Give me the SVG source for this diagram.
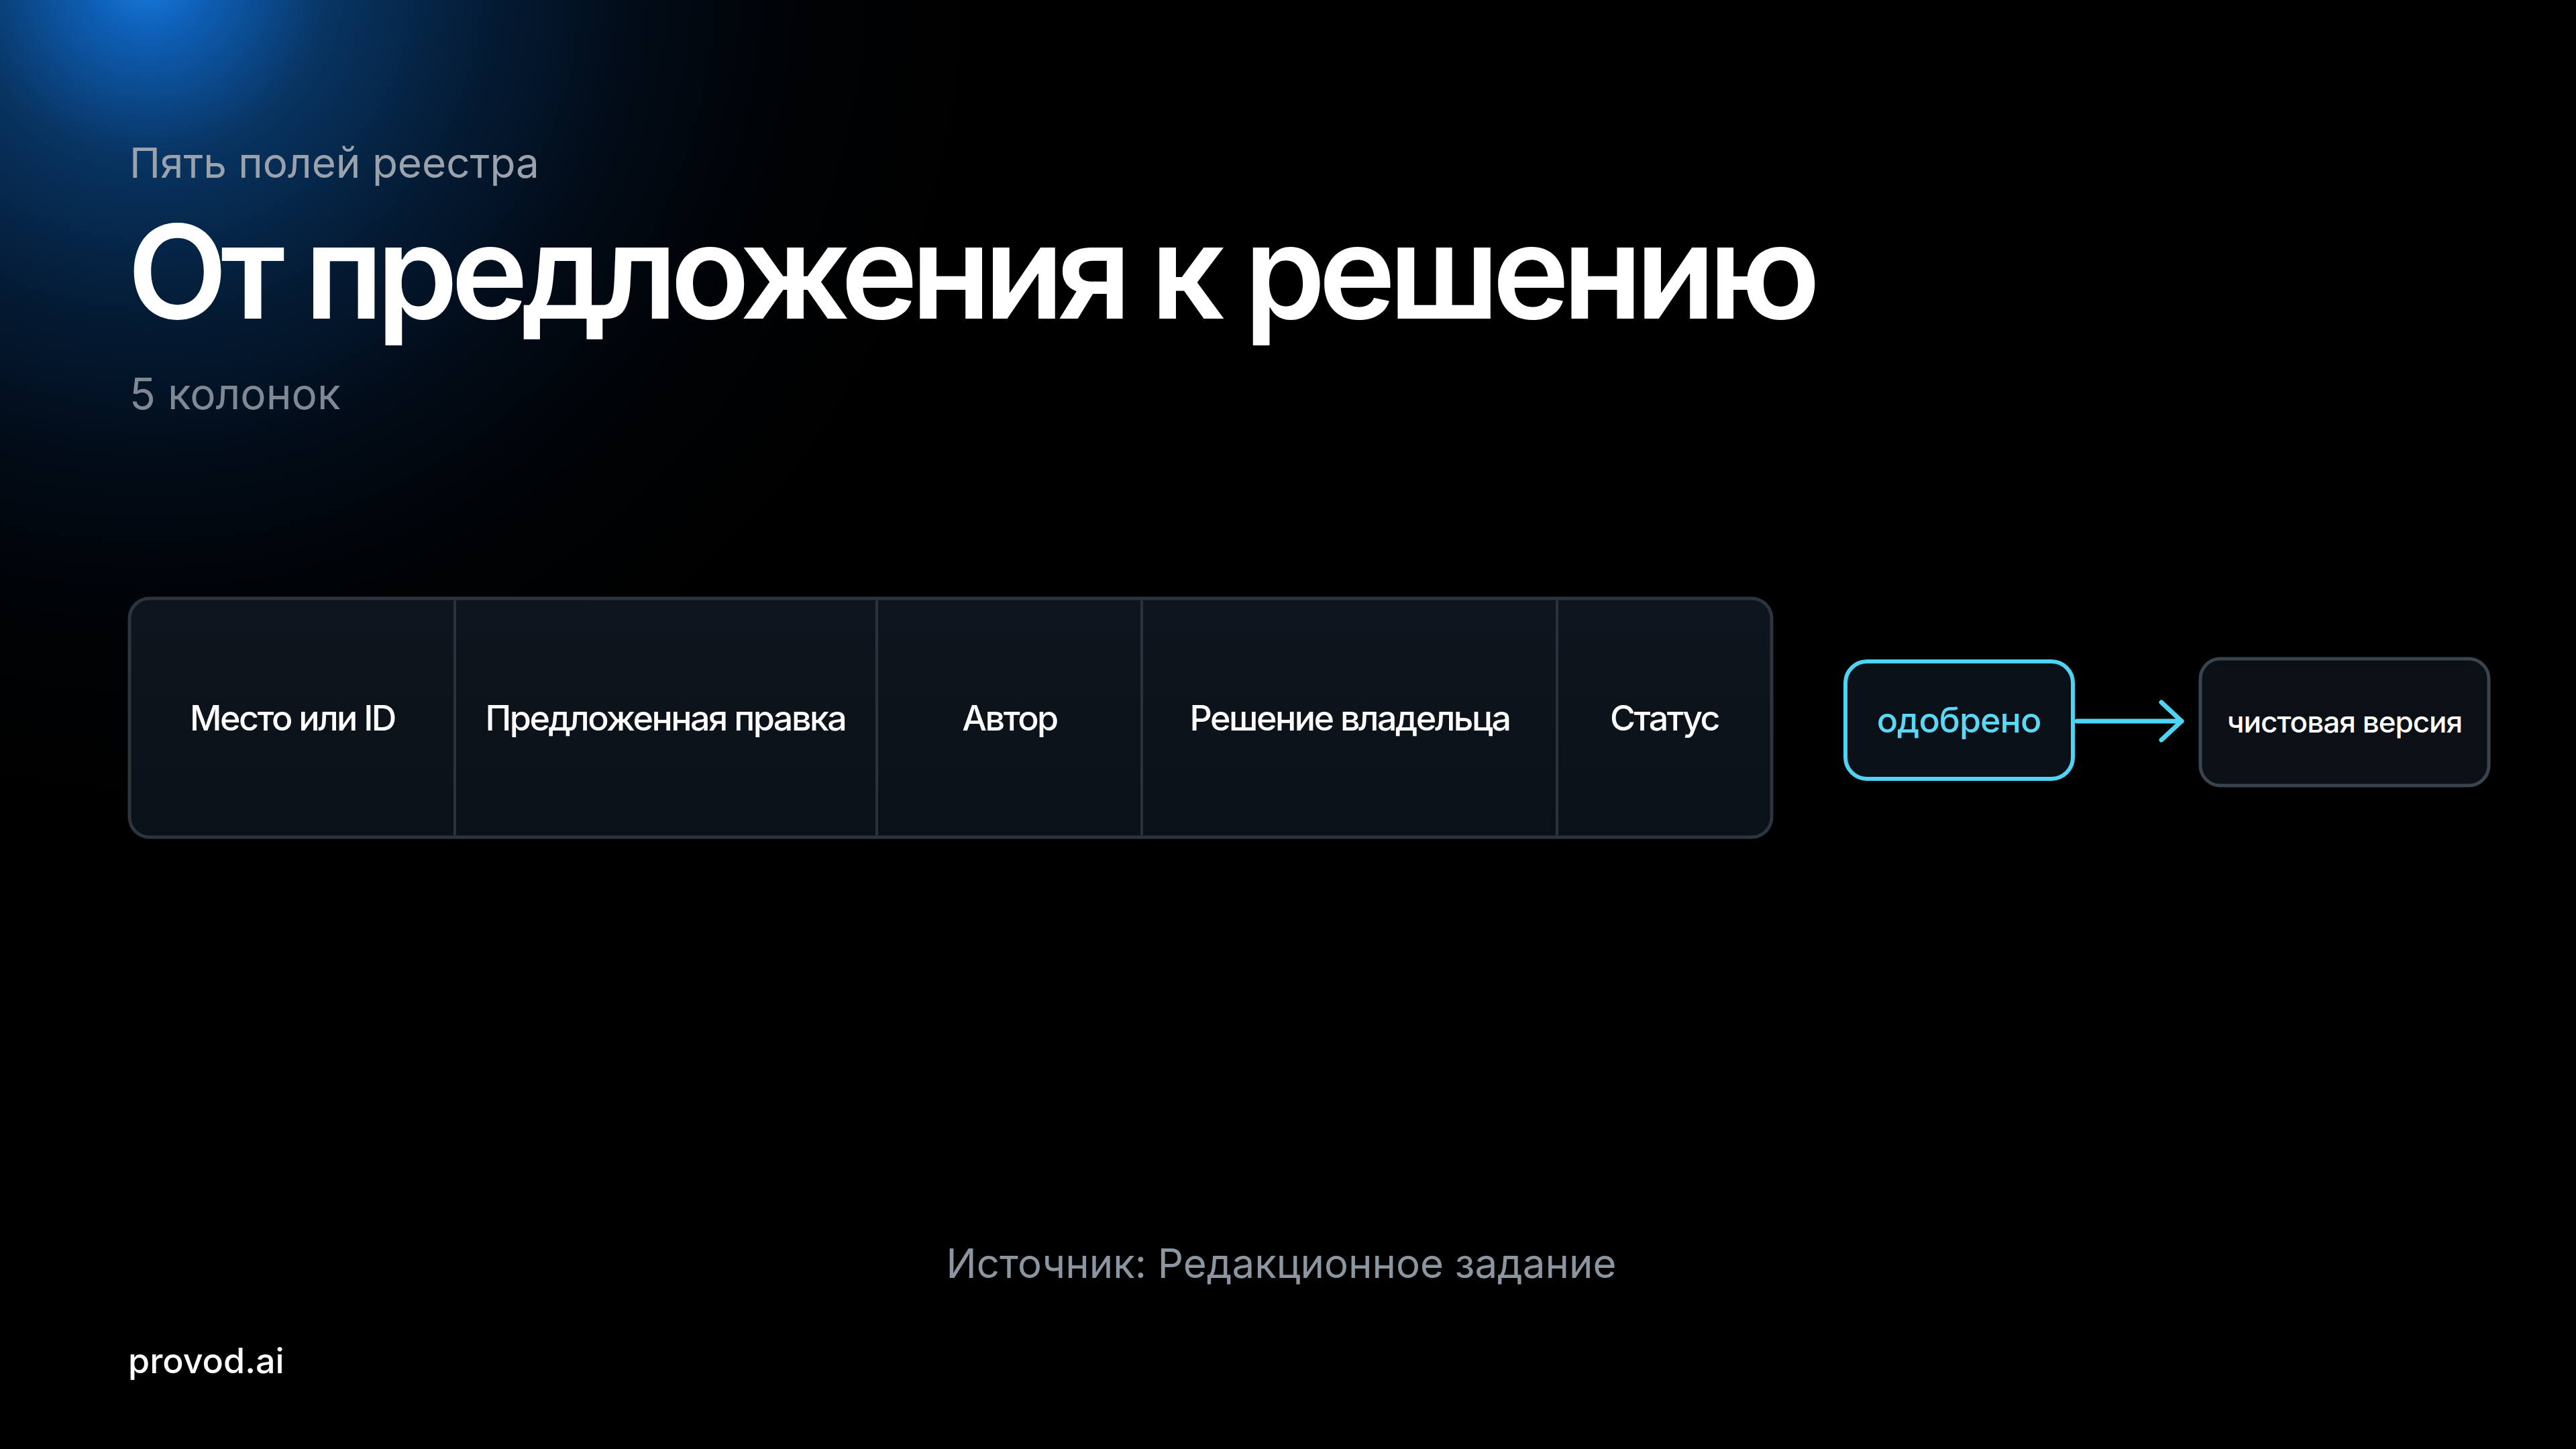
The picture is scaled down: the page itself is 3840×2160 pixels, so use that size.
<svg xmlns="http://www.w3.org/2000/svg" width="3840" height="2160" viewBox="0 0 3840 2160">
  <defs>
    <radialGradient id="glow" cx="220" cy="-40" r="1250" gradientUnits="userSpaceOnUse">
      <stop offset="0" stop-color="#1a80e2"/>
      <stop offset="0.07" stop-color="#0e60b8"/>
      <stop offset="0.22" stop-color="#083462"/>
      <stop offset="0.4" stop-color="#041c36"/>
      <stop offset="0.6" stop-color="#020a15"/>
      <stop offset="0.8" stop-color="#000204"/>
      <stop offset="1" stop-color="#000000"/>
    </radialGradient>
    <linearGradient id="cellFill" x1="0" y1="0" x2="0" y2="1">
      <stop offset="0" stop-color="#0e151e"/>
      <stop offset="1" stop-color="#0b1118"/>
    </linearGradient>
    <marker id="chev" viewBox="0 0 40 64" refX="36" refY="32" markerWidth="40" markerHeight="64" markerUnits="userSpaceOnUse" orient="auto">
      <path d="M6 4 L36 32 L6 60" fill="none" stroke="#4fd3f2" stroke-width="7" stroke-linecap="round" stroke-linejoin="round"/>
    </marker>
    <style>
      .sans { font-family: Inter, "Noto Sans", "Liberation Sans", sans-serif; }
      .kicker { font-size: 62px; fill: #9aa3ad; font-weight: 400; }
      .title { font-size: 194px; fill: #ffffff; font-weight: 600; letter-spacing: -10px; }
      .sub { font-size: 64px; fill: #7f8893; font-weight: 400; }
      .cellText { font-size: 52px; fill: #ffffff; font-weight: 500; letter-spacing: -2.5px; text-anchor: middle; dominant-baseline: central; }
      .divider { stroke: #2a323c; stroke-width: 4; }
      .tableBox { fill: url(#cellFill); stroke: #2c343e; stroke-width: 5; }
      .approved { fill: #0b1118; stroke: #4fd3f2; stroke-width: 6; }
      .approvedText { font-size: 52px; fill: #5ad8f5; font-weight: 500; letter-spacing: -1px; text-anchor: middle; dominant-baseline: central; }
      .final { fill: #0b1016; stroke: #3a444f; stroke-width: 5; }
      .finalText { font-size: 44px; fill: #ffffff; font-weight: 500; letter-spacing: -1px; text-anchor: middle; dominant-baseline: central; }
      .source { font-size: 60px; fill: #8c96a0; font-weight: 400; text-anchor: middle; }
      .brand { font-size: 52px; fill: #ffffff; font-weight: 500; }
      .conn { stroke: #4fd3f2; stroke-width: 7; fill: none; stroke-linecap: round; }
    </style>
  </defs>

  <rect x="0" y="0" width="3840" height="2160" fill="#000000"/>
  <rect x="0" y="0" width="3840" height="2160" fill="url(#glow)"/>

  <g id="header" class="sans">
    <text class="kicker" x="193" y="265">Пять полей реестра</text>
    <text class="title" x="190" y="475">От предложения к решению</text>
    <text class="sub" x="193" y="610">5 колонок</text>
  </g>

  <g id="table" class="sans">
    <rect class="tableBox" x="193" y="892" width="2448" height="356" rx="30" ry="30"/>
    <line class="divider" x1="678" y1="895" x2="678" y2="1245"/>
    <line class="divider" x1="1307" y1="895" x2="1307" y2="1245"/>
    <line class="divider" x1="1702" y1="895" x2="1702" y2="1245"/>
    <line class="divider" x1="2321" y1="895" x2="2321" y2="1245"/>
    <g id="col-place"><text class="cellText" x="436" y="1070">Место или ID</text></g>
    <g id="col-edit"><text class="cellText" x="992" y="1070">Предложенная правка</text></g>
    <g id="col-author"><text class="cellText" x="1505" y="1070">Автор</text></g>
    <g id="col-decision"><text class="cellText" x="2012" y="1070">Решение владельца</text></g>
    <g id="col-status"><text class="cellText" x="2481" y="1070">Статус</text></g>
  </g>

  <g id="node-approved" class="sans">
    <rect class="approved" x="2751" y="986" width="339" height="175" rx="32" ry="32"/>
    <text class="approvedText" x="2920" y="1073">одобрено</text>
  </g>

  <g id="node-final" class="sans">
    <rect class="final" x="3280" y="982" width="430" height="189" rx="30" ry="30"/>
    <text class="finalText" x="3495" y="1076">чистовая версия</text>
  </g>

  <g id="connectors">
    <line class="conn" x1="3096" y1="1075" x2="3252" y2="1075" marker-end="url(#chev)"/>
  </g>

  <g id="footer" class="sans">
    <text class="source" x="1910" y="1905">Источник: Редакционное задание</text>
    <text class="brand" x="191" y="2047">provod.ai</text>
  </g>
</svg>
